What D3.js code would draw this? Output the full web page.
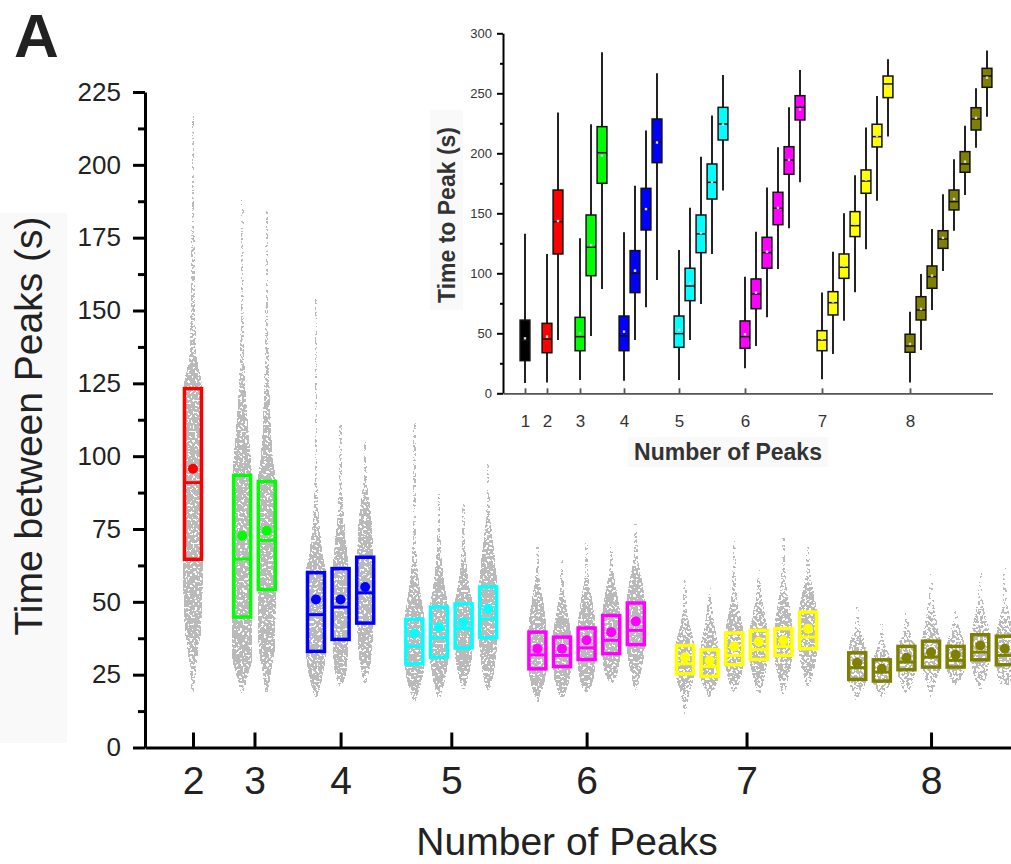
<!DOCTYPE html>
<html>
<head>
<meta charset="utf-8">
<script src="https://cdn.jsdelivr.net/npm/d3@7"></script>
<style>
  body { margin: 0; background: #fff; }
  svg { display: block; font-family: "Liberation Sans", Arial, sans-serif; }
</style>
</head>
<body>
<div id="chart"></div>
<script>

// ---- main panel data (time between peaks, s) ----
var peaks = [2, 3, 4, 5, 6, 7, 8];
var peakColors = ["#ff0000", "#00ff00", "#0000ff", "#00ffff", "#ff00ff", "#ffff00", "#808000"];

var mainQ1 = [[64.6], [44.8, 54.2], [33.0, 37.1, 42.7], [28.7, 31.0, 34.2, 37.7],
  [27.0, 27.8, 30.2, 32.2, 35.3], [25.3, 24.4, 28.4, 30.2, 31.6, 33.9],
  [23.4, 22.8, 26.7, 27.6, 27.6, 30.1, 28.4]];
var mainMedian = [[90.9], [64.7, 71.1], [45.6, 48.2, 53.1], [34.7, 37.7, 40.8, 44.2],
  [31.8, 31.6, 34.2, 36.8, 40.2], [28.7, 27.8, 31.6, 33.6, 34.7, 37.9],
  [27.4, 25.9, 29.3, 31.0, 29.9, 32.7, 31.6]];
var mainQ3 = [[123.2], [93.4, 91.3], [60.0, 61.4, 65.3], [44.0, 48.2, 49.3, 55.1],
  [39.6, 37.9, 41.0, 45.3, 49.6], [35.0, 33.6, 39.3, 40.2, 40.8, 46.5],
  [32.5, 30.1, 34.7, 36.5, 34.7, 38.7, 38.2]];
var mainMean = [[95.7], [72.7, 74.4], [50.8, 50.8, 55.1], [39.1, 41.3, 43.0, 47.6],
  [33.9, 33.9, 36.8, 39.6, 43.3], [31.0, 29.9, 34.7, 36.3, 36.8, 40.8],
  [29.1, 27.0, 30.8, 32.7, 31.8, 35.0, 33.9]];

// spread of the raw points: [value, relative width of the cloud]
var mainCloud = [
  [[[19,0.1],[28,0.35],[42,0.85],[65,1],[100,1],[124,0.95],[130,0.6],[137,0.3],[160,0.25],[188,0.15],[200,0.08],[217,0.05]]],
  [[[18.5,0.1],[25,0.6],[31,1],[45,1],[94,0.95],[110,0.6],[137,0.22],[160,0.12],[171,0.08],[188,0.05]],
   [[19,0.1],[27,0.5],[36,0.85],[54,0.9],[91,0.9],[100,0.6],[130,0.25],[156,0.12],[186,0.05]]],
  [[[17,0.1],[23,0.6],[33,1],[60,1],[66,0.7],[80,0.3],[95,0.12],[135,0.06],[154,0.05]],
   [[21,0.1],[26,0.6],[37,0.8],[61,0.8],[69,0.6],[85,0.25],[95,0.12],[111,0.05]],
   [[22,0.1],[30,0.6],[43,0.8],[65,0.8],[80,0.6],[93,0.18],[105,0.05]]],
  [[[16,0.1],[21,0.6],[29,1],[44,1],[49,0.8],[61,0.35],[78,0.12],[113,0.05]],
   [[17,0.1],[23,0.6],[31,0.9],[48,0.9],[55,0.6],[74,0.18],[87,0.05]],
   [[20,0.1],[26,0.6],[34,0.9],[49,0.9],[55,0.6],[72,0.18],[84,0.05]],
   [[19,0.1],[26,0.6],[38,0.9],[55,0.9],[64,0.7],[83,0.18],[98,0.05]]],
  [[[15.6,0.1],[21,0.6],[27,0.9],[40,0.9],[50,0.6],[60,0.2],[69,0.05]],
   [[16.7,0.1],[21,0.6],[28,0.9],[38,0.9],[48,0.5],[56,0.2],[64.5,0.05]],
   [[19,0.1],[21,0.5],[30,0.9],[41,0.9],[50,0.6],[60,0.2],[70.5,0.05]],
   [[22,0.1],[24,0.5],[32,0.9],[45,0.9],[53,0.6],[62,0.2],[69,0.05]],
   [[19.6,0.1],[25,0.5],[35,0.9],[50,0.9],[58,0.6],[65,0.25],[77,0.05]]],
  [[[11.3,0.05],[18,0.4],[25,0.9],[35,0.9],[42,0.5],[48,0.25],[59,0.05]],
   [[17.3,0.1],[20,0.5],[24,0.9],[34,0.9],[42,0.5],[50,0.25],[55,0.05]],
   [[18.4,0.1],[22,0.5],[28,0.9],[39,0.9],[46,0.6],[52,0.3],[71,0.05]],
   [[17.9,0.1],[23,0.5],[30,0.9],[40,0.9],[48,0.5],[54,0.25],[61,0.05]],
   [[18.4,0.1],[23.5,0.5],[31.6,0.9],[41,0.9],[49,0.6],[56,0.3],[72,0.05]],
   [[21,0.1],[25,0.5],[34,0.9],[46.5,0.9],[53,0.6],[60,0.25],[70,0.05]]],
  [[[16,0.1],[18.4,0.4],[23,0.9],[32.5,0.9],[38,0.6],[41,0.3],[48.5,0.05]],
   [[17.3,0.1],[19,0.4],[23,0.9],[30,0.9],[34,0.5],[37,0.3],[45,0.05]],
   [[18.4,0.1],[21,0.5],[27,0.9],[35,0.9],[38,0.5],[47,0.05]],
   [[17.3,0.1],[21,0.4],[28,0.9],[36.5,0.9],[45,0.5],[50,0.3],[60.6,0.05]],
   [[21,0.1],[23,0.5],[28,0.9],[35,0.9],[40,0.5],[47,0.05]],
   [[20,0.1],[23,0.5],[30,0.9],[39,0.9],[46,0.5],[54,0.25],[61,0.05]],
   [[21,0.1],[22,0.5],[28,0.9],[38,0.9],[45,0.5],[50,0.25],[62.5,0.05]]]
];
var mainYTicks = [0, 25, 50, 75, 100, 125, 150, 175, 200, 225];

// ---- inset data (time to peak, s) ----
var insetPeaks = [1, 2, 3, 4, 5, 6, 7, 8];
var insetColors = ["#000000", "#ff0000", "#00ff00", "#0000ff", "#00ffff", "#ff00ff", "#ffff00", "#808000"];
var insetLow = [[8.6], [8.9, 44.4], [11.1, 47.8, 86.9], [10.5, 44.4, 71.7, 94.4],
  [11.1, 44.4, 74.4, 116.1, 168.9], [20.8, 39.4, 63.3, 103.6, 137.5, 175.8],
  [11.7, 32.8, 60.5, 84.2, 120, 160.5, 213.9], [8.9, 36.1, 69.4, 101.9, 135.5, 165.3, 204.7, 230.5]];
var insetQ1 = [[27.2], [33.8, 116.1], [35.5, 98, 175], [35.5, 83.9, 136.1, 192.2],
  [38.3, 77.2, 117.2, 161.9, 211.1], [37.5, 70.5, 104.2, 140.5, 182.5, 227.8],
  [35.5, 65.3, 95.8, 130.6, 166.7, 205.3, 246.4], [34.2, 61.1, 87.5, 120.8, 152.8, 184.2, 219.4, 255]];
var insetMedian = [[44], [45.2, 143], [47.2, 121.7, 200.5], [47.8, 100, 153.6, 209.2],
  [49.7, 89.4, 132.8, 175.8, 224.4], [47.2, 82.8, 117.2, 154.2, 194.4, 238.3],
  [44.4, 75.5, 105, 139.7, 176.9, 213.9, 257.8], [39.4, 69.4, 97.2, 128.6, 159.7, 191.1, 228.6, 264.4]];
var insetQ3 = [[61], [58.3, 169.4], [63.3, 148.6, 222.2], [64.4, 118.9, 170.8, 228.6],
  [64.4, 104.2, 148.6, 191.1, 238.3], [60.3, 95.3, 130, 167.5, 205.5, 248],
  [52.2, 84.7, 116.1, 151.4, 186.1, 224.2, 264.4], [49.2, 80.5, 106.1, 135.5, 169.4, 201.4, 238, 270.8]];
var insetHigh = [[133], [116, 233.9], [129.2, 224.2, 284.2], [134.2, 173, 218.9, 266.7],
  [119.4, 154.7, 197.2, 231.4, 265.3], [97.2, 134.7, 171.4, 205, 238.3, 269.4],
  [83.9, 118, 150, 181.7, 221.4, 247.8, 278.3], [68, 99.4, 137, 165.8, 195, 223, 254.2, 285.6]];
var insetMean = [[45.8], [47.2, 143.5], [50, 123.6, 198], [51.4, 102.2, 153.5, 209],
  [52.8, 91.7, 133.5, 176, 224], [49.2, 83.9, 118, 154.5, 194.5, 236.5],
  [45.5, 76.4, 106.4, 141.1, 178, 214.5, 255.5], [41.1, 70.3, 98, 129.5, 161.9, 193, 229.5, 263]];
var insetYTicks = [0, 50, 100, 150, 200, 250, 300];


// boxes sit on consecutive slots, one empty slot between groups
function slotStarts(groups) {
  var starts = [], pos = 0;
  groups.forEach(function(g) { starts.push(pos); pos += g.length + 1; });
  return starts;
}

var width = 1011, height = 864;
var font = '"Liberation Sans", Arial, sans-serif';

var svg = d3.select("#chart").append("svg")
  .attr("width", width)
  .attr("height", height);

var defs = svg.append("defs");

// speckle texture for the point clouds
var filt = defs.append("filter").attr("id", "speckle")
  .attr("color-interpolation-filters", "sRGB")
  .attr("x", "-5%").attr("y", "-5%").attr("width", "110%").attr("height", "110%");
filt.append("feTurbulence").attr("type", "fractalNoise").attr("baseFrequency", 0.42)
  .attr("numOctaves", 1).attr("seed", 7).attr("result", "noise");
filt.append("feColorMatrix").attr("in", "noise").attr("type", "matrix")
  .attr("values", "0 0 0 0 0  0 0 0 0 0  0 0 0 0 0  1 0 0 0 0").attr("result", "na");
filt.append("feComposite").attr("in", "na").attr("in2", "SourceAlpha")
  .attr("operator", "arithmetic").attr("k1", 0).attr("k2", 1).attr("k3", 1).attr("k4", -1)
  .attr("result", "mix");
filt.append("feComponentTransfer").attr("in", "mix").attr("result", "dots")
  .append("feFuncA").attr("type", "discrete")
  .attr("tableValues", "0 0 0 0 0 0 0 0 1 1 1 1 1 1 1 1 1 1 1 1");
filt.append("feFlood").attr("flood-color", "#bababa").attr("result", "grey");
filt.append("feComposite").attr("in", "grey").attr("in2", "dots").attr("operator", "in");

// faint label backgrounds
svg.append("rect").attr("x", 0).attr("y", 213).attr("width", 67).attr("height", 530).attr("fill", "#f9f9f9");
svg.append("rect").attr("x", 430).attr("y", 110).attr("width", 33).attr("height", 200).attr("fill", "#f9f9f9");
svg.append("rect").attr("x", 628).attr("y", 437).attr("width", 200).attr("height", 30).attr("fill", "#f9f9f9");

// ================= main panel =================
var xMain = d3.scaleLinear().domain([-1.95, 33.25]).range([145, 1011]);
var yMain = d3.scaleLinear().domain([0, 225]).range([747.5, 92]);

var mainStarts = slotStarts(mainQ1);
var mainBoxes = [];
mainQ1.forEach(function(g, gi) {
  g.forEach(function(q1, j) {
    mainBoxes.push({
      slot: mainStarts[gi] + j, color: peakColors[gi],
      q1: q1, med: mainMedian[gi][j], q3: mainQ3[gi][j], mean: mainMean[gi][j],
      cloud: mainCloud[gi][j], group: gi
    });
  });
});

var cloudW = 10.3;
function halfW(w) { return Math.max(1.6, w * cloudW); }

// opacity gradients drive how sparse the speckles get
// (fewer traces with 7 and 8 peaks, so those clouds are thinner)
var groupThin = [1, 1, 1, 1, 1, 0.96, 0.92];
mainBoxes.forEach(function(b, i) {
  var lo = b.cloud[0][0], hi = b.cloud[b.cloud.length - 1][0];
  var g = defs.append("linearGradient").attr("id", "cg" + i)
    .attr("gradientUnits", "userSpaceOnUse")
    .attr("x1", 0).attr("x2", 0).attr("y1", yMain(hi)).attr("y2", yMain(lo));
  b.cloud.slice().reverse().forEach(function(p) {
    g.append("stop")
      .attr("offset", (yMain(p[0]) - yMain(hi)) / (yMain(lo) - yMain(hi)))
      .attr("stop-color", "#000")
      .attr("stop-opacity", groupThin[b.group] * (0.84 + 0.16 * Math.min(1, p[1] / 0.6)));
  });
});

var clouds = svg.append("g").attr("filter", "url(#speckle)");
clouds.selectAll("path")
  .data(mainBoxes)
  .enter().append("path")
  .attr("fill", function(d, i) { return "url(#cg" + i + ")"; })
  .attr("d", function(d) {
    var cx = xMain(d.slot);
    return d3.area()
      .curve(d3.curveMonotoneY)
      .y(function(p) { return yMain(p[0]); })
      .x0(function(p) { return cx - halfW(p[1]); })
      .x1(function(p) { return cx + halfW(p[1]); })(d.cloud);
  });

// axes
var yAxisMain = svg.append("g")
  .attr("transform", "translate(145,0)")
  .call(d3.axisLeft(yMain).tickValues(mainYTicks).tickSize(12).tickSizeOuter(0).tickPadding(12));
svg.append("g")
  .attr("transform", "translate(145,0)")
  .call(d3.axisLeft(yMain).tickValues(mainYTicks.slice(0, -1).map(function(v) { return v + 12.5; }))
    .tickSize(7).tickFormat(""))
  .select(".domain").remove();

var groupCenters = mainStarts.map(function(s, i) { return s + (mainQ1[i].length - 1) / 2; });
var xAxisMain = svg.append("g")
  .attr("transform", "translate(0,747.5)")
  .call(d3.axisBottom(xMain).tickValues(groupCenters)
    .tickFormat(function(d, i) { return peaks[i]; })
    .tickSizeInner(-15).tickSizeOuter(0).tickPadding(19));

svg.selectAll(".tick line, .domain").attr("stroke", "#000").attr("stroke-width", 3);
yAxisMain.selectAll("text").style("font-size", "26px").attr("fill", "#222").style("font-family", font);
xAxisMain.selectAll("text").style("font-size", "39px").attr("fill", "#222").style("font-family", font);

// boxes
var boxW = 17;
var boxG = svg.append("g").selectAll("g")
  .data(mainBoxes)
  .enter().append("g");

boxG.append("rect")
  .attr("x", function(d) { return xMain(d.slot) - boxW / 2; })
  .attr("y", function(d) { return yMain(d.q3); })
  .attr("width", boxW)
  .attr("height", function(d) { return yMain(d.q1) - yMain(d.q3); })
  .attr("fill", "none")
  .attr("stroke", function(d) { return d.color; })
  .attr("stroke-width", 3.5);

boxG.append("line")
  .attr("x1", function(d) { return xMain(d.slot) - boxW / 2; })
  .attr("x2", function(d) { return xMain(d.slot) + boxW / 2; })
  .attr("y1", function(d) { return yMain(d.med); })
  .attr("y2", function(d) { return yMain(d.med); })
  .attr("stroke", function(d) { return d.color; })
  .attr("stroke-width", 3);

boxG.append("circle")
  .attr("cx", function(d) { return xMain(d.slot); })
  .attr("cy", function(d) { return yMain(d.mean); })
  .attr("r", 5)
  .attr("fill", function(d) { return d.color; });

// titles
svg.append("text")
  .attr("transform", "translate(42,426) rotate(-90)")
  .attr("text-anchor", "middle")
  .style("font-size", "39px").attr("fill", "#222")
  .text("Time between Peaks (s)");

svg.append("text")
  .attr("x", 567).attr("y", 855)
  .attr("text-anchor", "middle")
  .style("font-size", "39px").attr("fill", "#222")
  .text("Number of Peaks");

svg.append("text")
  .attr("x", 14).attr("y", 57)
  .style("font-size", "62px").style("font-weight", "bold").attr("fill", "#222")
  .text("A");

// ================= inset =================
var xIn = d3.scaleLinear().domain([-2, 42.5]).range([503, 992.5]);
var yIn = d3.scaleLinear().domain([0, 300]).range([393.3, 33.3]);

var inStarts = slotStarts(insetQ1);
var inBoxes = [];
insetQ1.forEach(function(g, gi) {
  g.forEach(function(q1, j) {
    inBoxes.push({
      slot: inStarts[gi] + j, color: insetColors[gi],
      lo: insetLow[gi][j], q1: q1, med: insetMedian[gi][j],
      q3: insetQ3[gi][j], hi: insetHigh[gi][j], mean: insetMean[gi][j]
    });
  });
});

var inY = svg.append("g")
  .attr("transform", "translate(503,0)")
  .call(d3.axisLeft(yIn).tickValues(insetYTicks).tickSize(6).tickSizeOuter(0).tickPadding(5));
inY.selectAll(".tick line, .domain").attr("stroke", "#000").attr("stroke-width", 2);
inY.selectAll("text").style("font-size", "13px").attr("fill", "#333").style("font-family", font);
svg.append("g")
  .attr("transform", "translate(503,0)")
  .call(d3.axisLeft(yIn).tickValues(insetYTicks.slice(0, -1).map(function(v) { return v + 25; }))
    .tickSize(3).tickFormat(""))
  .call(function(g) {
    g.select(".domain").remove();
    g.selectAll(".tick line").attr("stroke", "#000").attr("stroke-width", 2);
  });

var inX = svg.append("g")
  .attr("transform", "translate(0,393.3)")
  .call(d3.axisBottom(xIn).tickValues(inStarts)
    .tickFormat(function(d, i) { return insetPeaks[i]; })
    .tickSizeInner(-5).tickSizeOuter(0).tickPadding(22));
inX.selectAll(".tick line, .domain").attr("stroke", "#555").attr("stroke-width", 1.8);
inX.selectAll("text").style("font-size", "17px").attr("fill", "#333").style("font-family", font);

var inBoxW = 9.8;
var inG = svg.append("g").selectAll("g")
  .data(inBoxes)
  .enter().append("g");

inG.append("line")
  .attr("x1", function(d) { return xIn(d.slot); })
  .attr("x2", function(d) { return xIn(d.slot); })
  .attr("y1", function(d) { return yIn(d.hi); })
  .attr("y2", function(d) { return yIn(d.lo); })
  .attr("stroke", "#222")
  .attr("stroke-width", 2);

inG.append("rect")
  .attr("x", function(d) { return xIn(d.slot) - inBoxW / 2; })
  .attr("y", function(d) { return yIn(d.q3); })
  .attr("width", inBoxW)
  .attr("height", function(d) { return yIn(d.q1) - yIn(d.q3); })
  .attr("fill", function(d) { return d.color; })
  .attr("stroke", "#111")
  .attr("stroke-width", 1.5);

inG.append("line")
  .attr("x1", function(d) { return xIn(d.slot) - inBoxW / 2; })
  .attr("x2", function(d) { return xIn(d.slot) + inBoxW / 2; })
  .attr("y1", function(d) { return yIn(d.med); })
  .attr("y2", function(d) { return yIn(d.med); })
  .attr("stroke", "#111")
  .attr("stroke-width", 1.5);

inG.append("rect")
  .attr("x", function(d) { return xIn(d.slot) - 1.2; })
  .attr("y", function(d) { return yIn(d.mean) - 1.2; })
  .attr("width", 2.4).attr("height", 2.4)
  .attr("fill", "#d8d8d8");

svg.append("text")
  .attr("transform", "translate(455,215) rotate(-90)")
  .attr("text-anchor", "middle")
  .style("font-size", "23px").style("font-weight", "bold").attr("fill", "#333")
  .text("Time to Peak (s)");

svg.append("text")
  .attr("x", 728).attr("y", 460)
  .attr("text-anchor", "middle")
  .style("font-size", "23px").style("font-weight", "bold").attr("fill", "#333")
  .text("Number of Peaks");

</script>
</body>
</html>
